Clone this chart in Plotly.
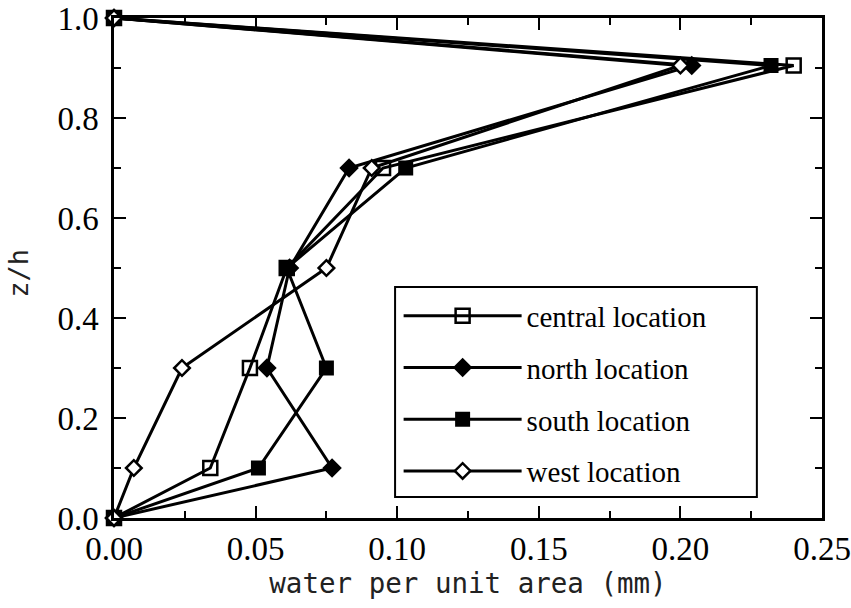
import plotly.graph_objects as go

z_levels = [0.0, 0.1, 0.3, 0.5, 0.7, 0.905, 1.0]
central = [0.0, 0.034, 0.048, 0.061, 0.095, 0.240, 0.0]
north = [0.0, 0.077, 0.054, 0.062, 0.083, 0.204, 0.0]
south = [0.0, 0.051, 0.075, 0.061, 0.103, 0.232, 0.0]
west = [0.0, 0.007, 0.024, 0.075, 0.091, 0.200, 0.0]

series = [
    ("central location", central, dict(symbol="square-open", size=14, color="black", line=dict(width=2.5, color="black"))),
    ("north location", north, dict(symbol="diamond", size=15, color="black")),
    ("south location", south, dict(symbol="square", size=15, color="black")),
    ("west location", west, dict(symbol="diamond", size=12, color="white", line=dict(width=2.5, color="black"))),
]

SERIF = "Liberation Serif"
MONO = "DejaVu Sans Mono"

fig = go.Figure()
for name, vals, mk in series:
    fig.add_trace(go.Scatter(
        x=vals, y=z_levels, name=name, mode="lines+markers", legendgroup=name,
        line=dict(color="black", width=3), marker=mk, cliponaxis=False,
    ))

# legend frame
fig.add_shape(type="rect", xref="paper", yref="paper",
              x0=0.397, x1=0.908, y0=0.042, y1=0.462,
              line=dict(color="black", width=2), fillcolor="white", layer="below")

# y-axis title
fig.add_annotation(text="z/h", xref="paper", yref="paper", x=-0.136, y=0.49,
                   textangle=-90, showarrow=False, xanchor="center", yanchor="middle",
                   font=dict(family=MONO, size=27, color="#222"))

fig.update_layout(
    width=851, height=608,
    margin=dict(l=114, r=29, t=18, b=90),
    plot_bgcolor="white", paper_bgcolor="white",
    xaxis=dict(
        range=[0, 0.25], dtick=0.05, tickformat=".2f", automargin=False,
        showline=True, linecolor="black", linewidth=2.5, mirror="allticks",
        ticks="inside", ticklen=12, tickwidth=2, tickcolor="black",
        showgrid=False, zeroline=False,
        tickfont=dict(family=SERIF, size=33, color="black"),
        minor=dict(ticks="inside", ticklen=7, tickwidth=2, tickcolor="black", dtick=0.025),
        title=dict(text="water per unit area (mm)", font=dict(family=MONO, size=27.5, color="#222"), standoff=2),
    ),
    yaxis=dict(
        range=[0, 1.0], dtick=0.2, tickformat=".1f", automargin=False,
        showline=True, linecolor="black", linewidth=2.5, mirror="allticks",
        ticks="inside", ticklen=12, tickwidth=2, tickcolor="black",
        showgrid=False, zeroline=False,
        tickfont=dict(family=SERIF, size=33, color="black"),
        ticklabelstandoff=6,
        minor=dict(ticks="inside", ticklen=7, tickwidth=2, tickcolor="black", dtick=0.1),
    ),
    legend=dict(
        x=0.402, y=0.455, xanchor="left", yanchor="top",
        bgcolor="rgba(0,0,0,0)", borderwidth=0,
        font=dict(family=SERIF, size=29, color="black"),
        itemwidth=118, tracegroupgap=11,
    ),
)

fig.write_html("out.html")
